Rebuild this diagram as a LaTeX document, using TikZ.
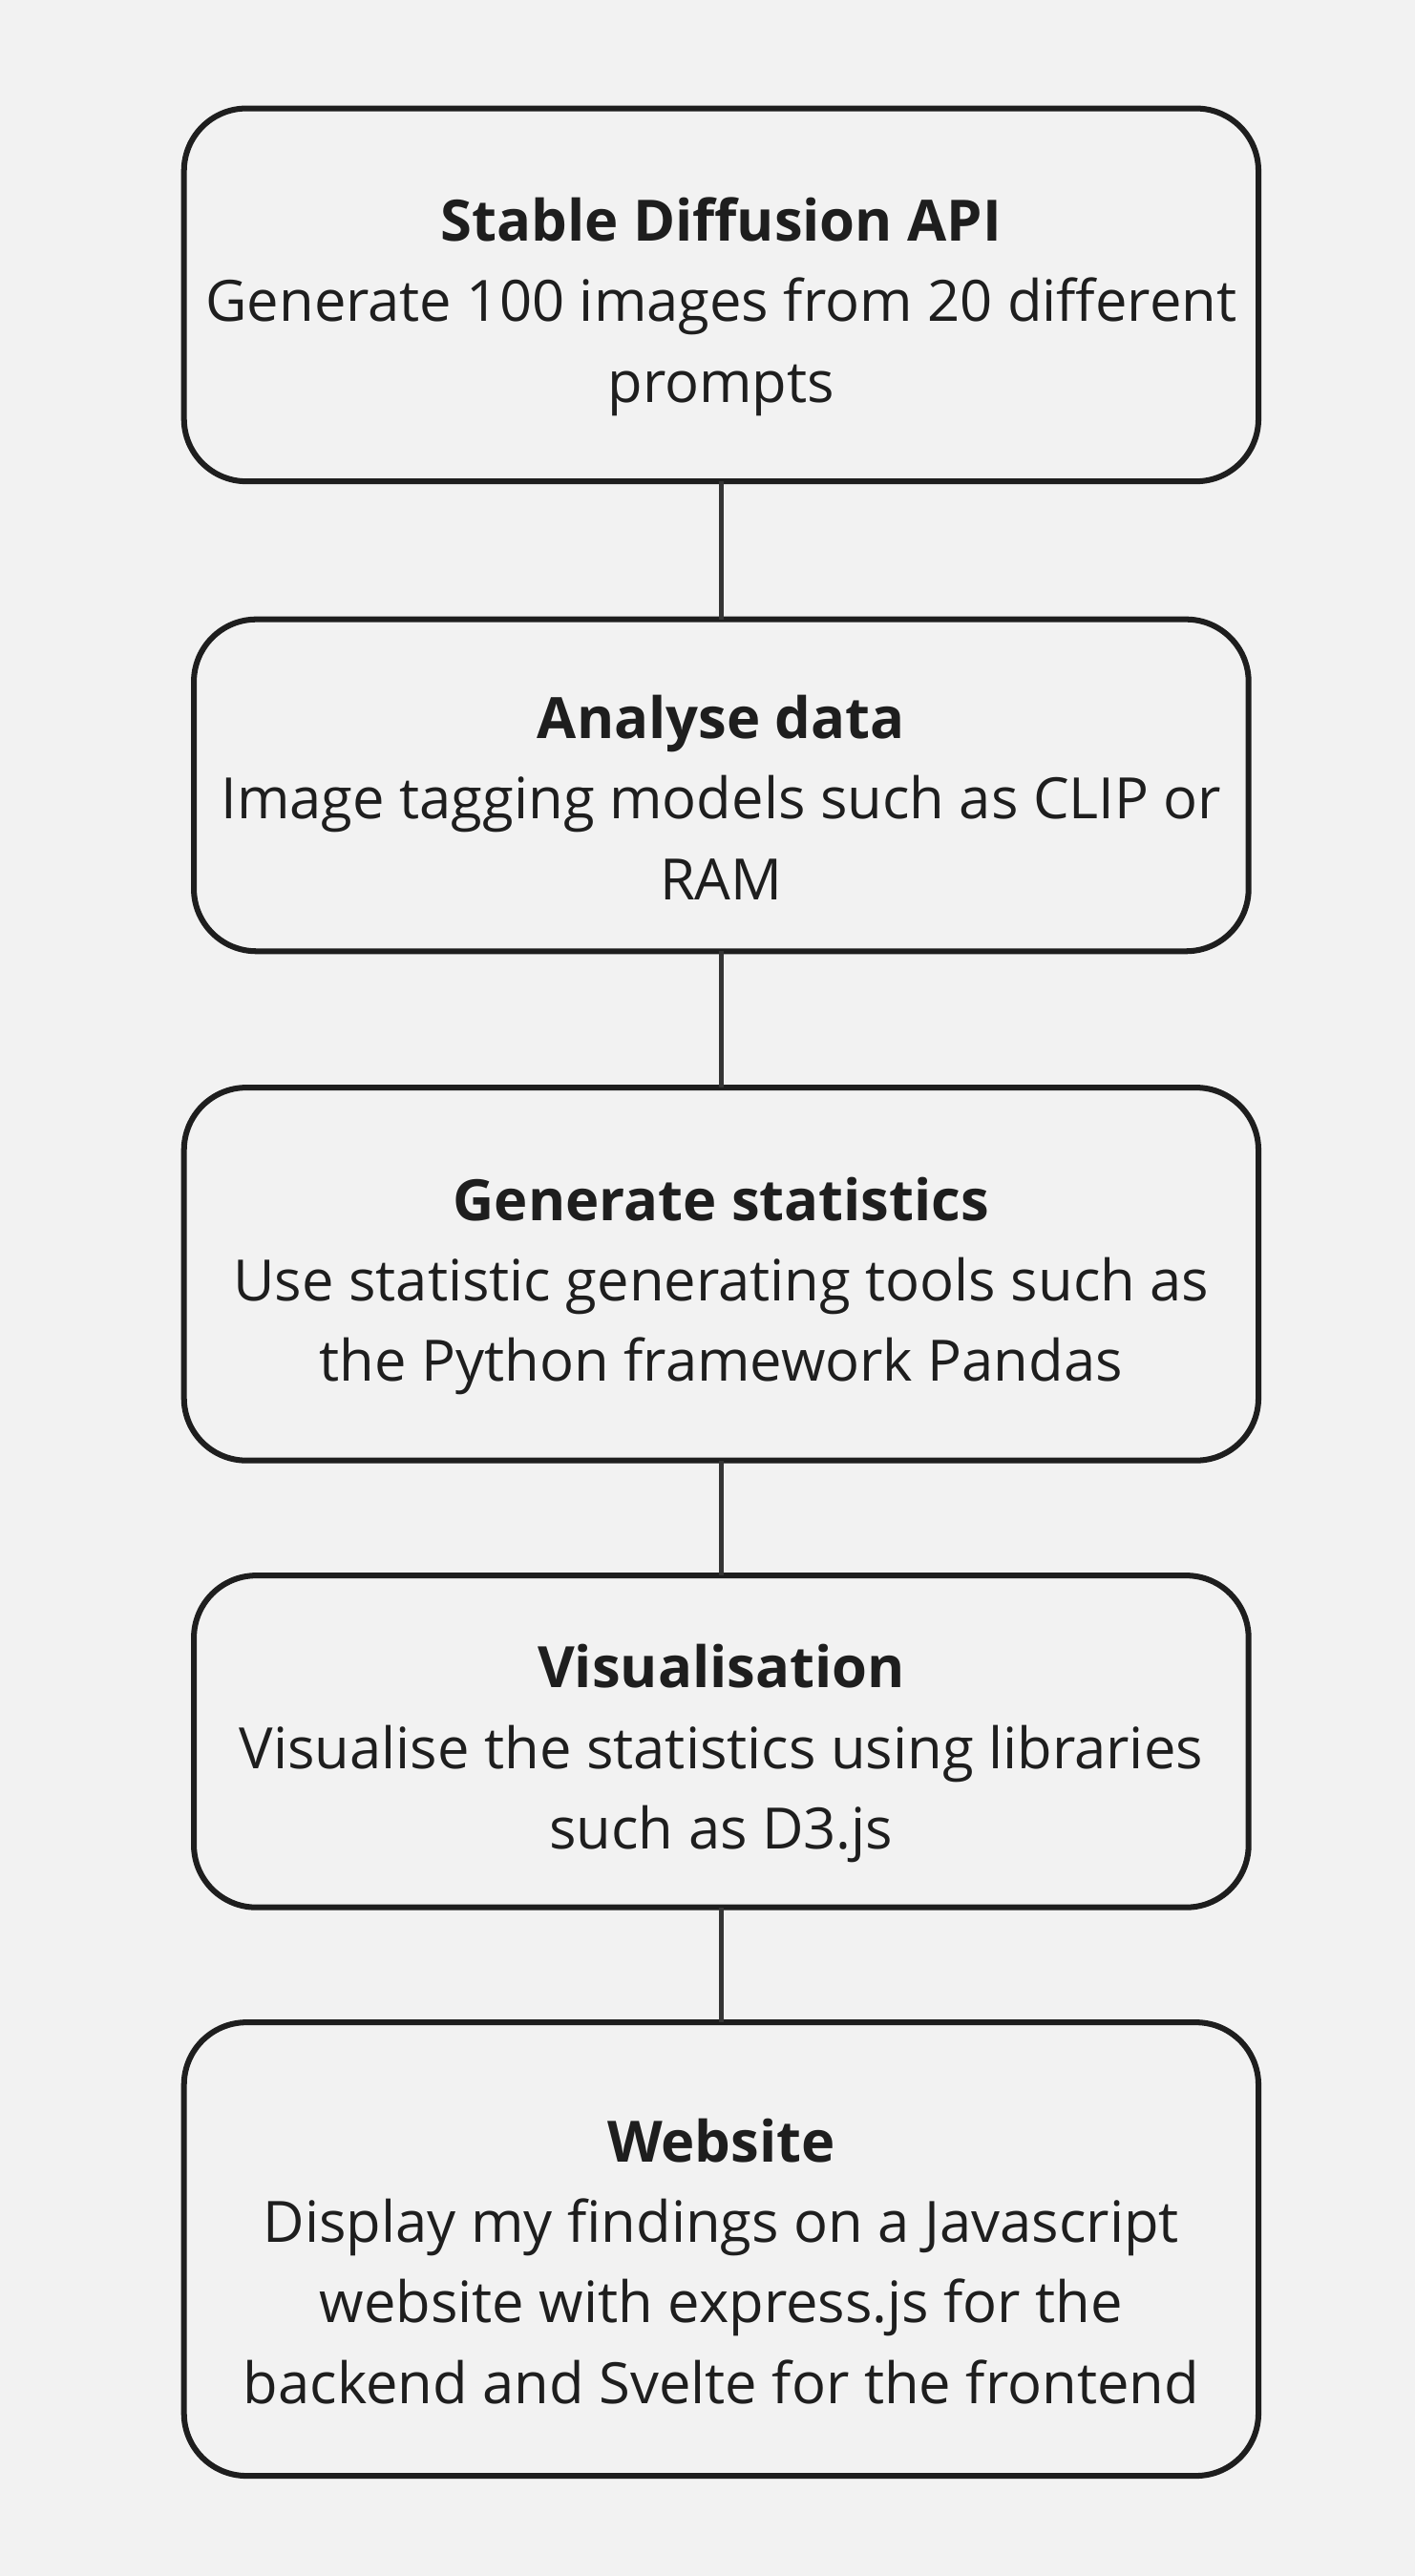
\documentclass[tikz,border=0pt]{standalone}
\usepackage{fontspec}
\setmainfont{Open Sans}
\usetikzlibrary{positioning}
\definecolor{bg}{HTML}{F2F2F2}
\definecolor{ink}{HTML}{1E1E1E}
\newcommand{\headstrut}{\rule{0pt}{41pt}}

\begin{document}
\begin{tikzpicture}[
        x=1pt, y=1pt,
        every node/.style={draw=ink, line width=3.5pt, rounded corners=38pt, align=center, text=ink,
          font=\fontsize{34.7}{49}\selectfont, inner sep=0pt, outer sep=0pt},
        stage/.style={minimum width=654pt, minimum height=227pt},
        smallstage/.style={minimum width=642pt, minimum height=202pt},
        link/.style={draw=ink!90, line width=3.2pt}
    ]

    % Background
    \fill[bg] (0,0) rectangle (861,-1568);
    \useasboundingbox (0,0) rectangle (861,-1568);

    % Nodes
    \node[stage] (api) at (439,-179.5) {\headstrut\textbf{Stable Diffusion API}\\
        Generate 100 images from 20 different\\ prompts};
    \node[smallstage, below=84pt of api] (analyse) {\headstrut\textbf{Analyse data}\\
        Image tagging models such as CLIP or\\ RAM};
    \node[stage, below=83pt of analyse] (stats) {\headstrut\textbf{Generate statistics}\\
        Use statistic generating tools such as\\ the Python framework Pandas};
    \node[smallstage, below=70pt of stats] (vis) {\headstrut\textbf{Visualisation}\\
        Visualise the statistics using libraries\\ such as D3.js};
    \node[stage, minimum height=276pt, below=70pt of vis] (web) {\headstrut\textbf{Website}\\
        Display my findings on a Javascript\\ website with express.js for the\\
        backend and Svelte for the frontend};

    % Edges
    \draw[link] (api) -- (analyse);
    \draw[link] (analyse) -- (stats);
    \draw[link] (stats) -- (vis);
    \draw[link] (vis) -- (web);

\end{tikzpicture}
\end{document}
